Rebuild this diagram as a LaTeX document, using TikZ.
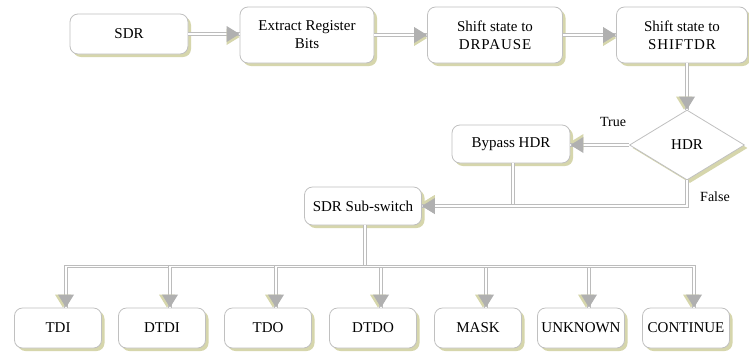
\documentclass[tikz,border=0pt]{standalone}
\usepackage{fontspec}
\setmainfont{Liberation Serif}
\newfontfamily\widefont[LetterSpace=6]{Liberation Serif}
\usetikzlibrary{shapes.geometric,decorations.markings,shadows}
\definecolor{shc}{RGB}{214,214,172}
\definecolor{bdc}{RGB}{192,192,192}
\definecolor{arc}{RGB}{188,188,188}
\definecolor{tipc}{RGB}{176,176,176}
\begin{document}
\begin{tikzpicture}[x=1pt,y=-1pt, font=\fontsize{15}{18}\selectfont,
  box/.style={draw=bdc, line width=0.8pt, rounded corners=8pt, fill=white, align=center, inner sep=0pt,
    general shadow={shadow xshift=3pt,shadow yshift=-3pt,fill=shc}},
  conn/.style={draw=arc, double=white, double distance=1.8pt, line width=0.8pt},
  arr/.style={conn, postaction={decorate, decoration={markings, mark=at position 1 with {
     \fill[shc] (0pt,-3pt) -- (-13pt,5pt) -- (-13pt,-11pt) -- cycle;
     \fill[tipc] (0pt,0pt) -- (-13pt,8pt) -- (-13pt,-8pt) -- cycle;}}}},
  bot/.style={box, minimum width=87pt, minimum height=40pt},
  lbl/.style={inner sep=0pt, font=\fontsize{14}{16}\selectfont}]
\useasboundingbox (0,0) rectangle (749,354);
\fill[white] (0,0) rectangle (749,354);
\node[box, minimum width=118pt, minimum height=40pt] (sdr) at (129,34) {SDR};
\node[box, minimum width=134pt, minimum height=56pt] (ext) at (307,35) {Extract Register\\Bits};
\node[box, minimum width=135pt, minimum height=56pt] (drp) at (495,35) {Shift state to\\{\widefont DRPAUSE}};
\node[box, minimum width=131pt, minimum height=56pt] (sft) at (682,35) {Shift state to\\{\widefont SHIFTDR}};
\node[box, diamond, rounded corners=0pt, aspect=1.6, minimum width=115pt, minimum height=70pt] (hdr) at (687,145) {HDR};
\node[box, minimum width=118pt, minimum height=38pt] (byp) at (511,144) {Bypass HDR};
\node[box, minimum width=117pt, minimum height=38pt] (sub) at (363,206) {SDR Sub-switch};
\node[bot] (tdi) at (58,328) {TDI};
\node[bot] (dtdi) at (162,328) {DTDI};
\node[bot] (tdo) at (268,328) {TDO};
\node[bot] (dtdo) at (373,328) {DTDO};
\node[bot] (mask) at (478,328) {MASK};
\node[bot] (unk) at (581,328) {UNKNOWN};
\node[bot] (cont) at (686,328) {CONTINUE};
\node[lbl] (tl) at (613,122) {True};
\node[lbl] (fl) at (715,197) {False};
\draw[arr] (sdr.east) -- (sdr.east -| ext.west);
\draw[arr] (ext.east) -- (ext.east -| drp.west);
\draw[arr] (drp.east) -- (drp.east -| sft.west);
\draw[arr] (sft.south -| hdr.north) -- (hdr.north);
\draw[arr] (hdr.west) -- (hdr.west -| byp.east);
\draw[arr] ([xshift=2pt]byp.south) |- (sub.east);
\draw[arr] (hdr.south) |- (sub.east);
\path ([xshift=2pt]sub.south) ++(0,41) coordinate (j);
\draw[conn] ([xshift=2pt]sub.south) -- (j);
\foreach \n in {tdi,dtdi,tdo,dtdo,mask,unk,cont}
  \draw[arr] (j) -| ([xshift=8pt]\n.north);
\end{tikzpicture}
\end{document}
